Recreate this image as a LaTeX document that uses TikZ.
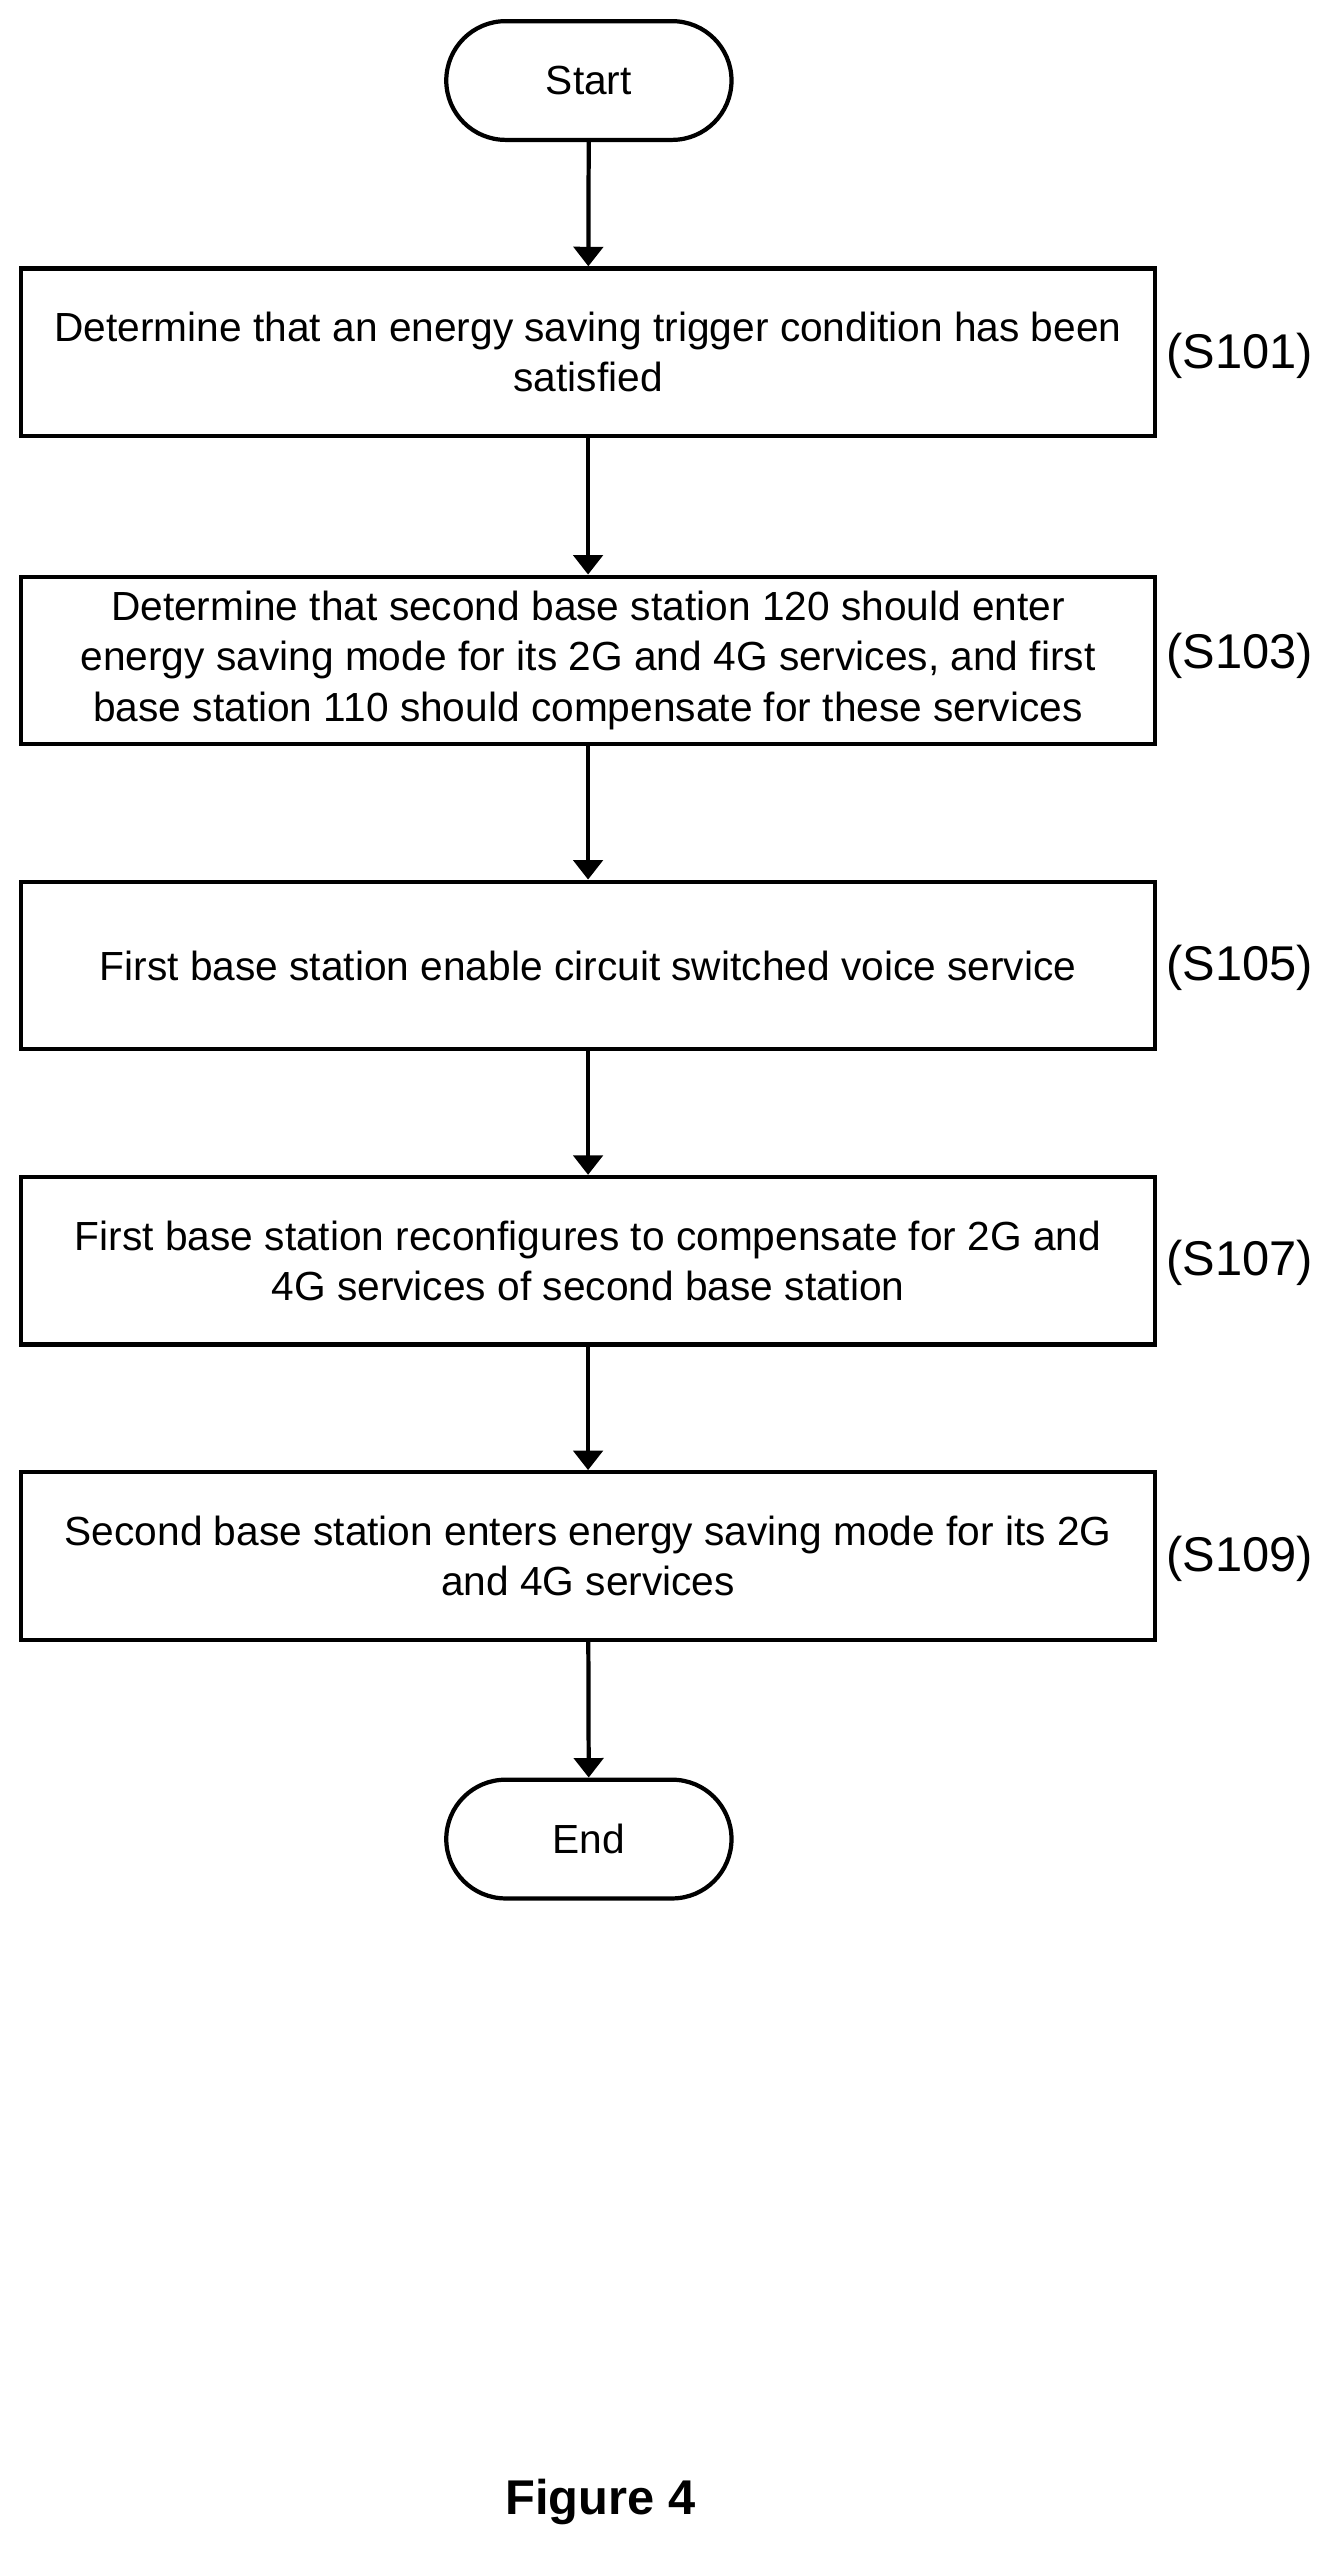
\documentclass[tikz,border=0pt]{standalone}
\usepackage{fontspec}
\setmainfont{Liberation Sans}
\usetikzlibrary{positioning,arrows.meta,shapes.misc}

\begin{document}
\begin{tikzpicture}[x=1pt,y=-1pt,line width=2.6pt,
		stepbox/.style={draw,minimum width=697pt,minimum height=103pt,align=center,font=\fontsize{25}{31}\selectfont},
		term/.style={draw,rounded rectangle,minimum width=182pt,minimum height=73pt,font=\fontsize{25}{31}\selectfont},
		tag/.style={font=\fontsize{30}{34}\selectfont}]
				\useasboundingbox (0,0) rectangle (820,1570);
				\node[term] at (362,49.5) (start) {Start};
				\node[stepbox] at (361.5,216.5) (s101) {Determine that an energy saving trigger condition has been\\satisfied};
				\node[stepbox] at (361.5,406) (s103) {Determine that second base station 120 should enter\\energy saving mode for its 2G and 4G services, and first\\base station 110 should compensate for these services};
				\node[stepbox] at (361.5,593.5) (s105) {First base station enable circuit switched voice service};
				\node[stepbox] at (361.5,775) (s107) {First base station reconfigures to compensate for 2G and\\4G services of second base station};
				\node[stepbox] at (361.5,956.5) (s109) {Second base station enters energy saving mode for its 2G\\and 4G services};
				\node[term] at (362,1130.5) (end) {End};
				\node[tag] at (762,219) (t101) {(S101)};
				\node[tag] at (762,403) (t103) {(S103)};
				\node[tag] at (762,595) (t105) {(S105)};
				\node[tag] at (762,776) (t107) {(S107)};
				\node[tag] at (762,958) (t109) {(S109)};
				\node[font=\bfseries\fontsize{30}{34}\selectfont] at (369,1538) (fig) {Figure 4};
				
				\draw[-{Triangle[length=12pt,width=18pt]}] (start) edge (s101);
				\draw[-{Triangle[length=12pt,width=18pt]}] (s101) edge (s103);
				\draw[-{Triangle[length=12pt,width=18pt]}] (s103) edge (s105);
				\draw[-{Triangle[length=12pt,width=18pt]}] (s105) edge (s107);
				\draw[-{Triangle[length=12pt,width=18pt]}] (s107) edge (s109);
				\draw[-{Triangle[length=12pt,width=18pt]}] (s109) edge (end);
\end{tikzpicture}
\end{document}
